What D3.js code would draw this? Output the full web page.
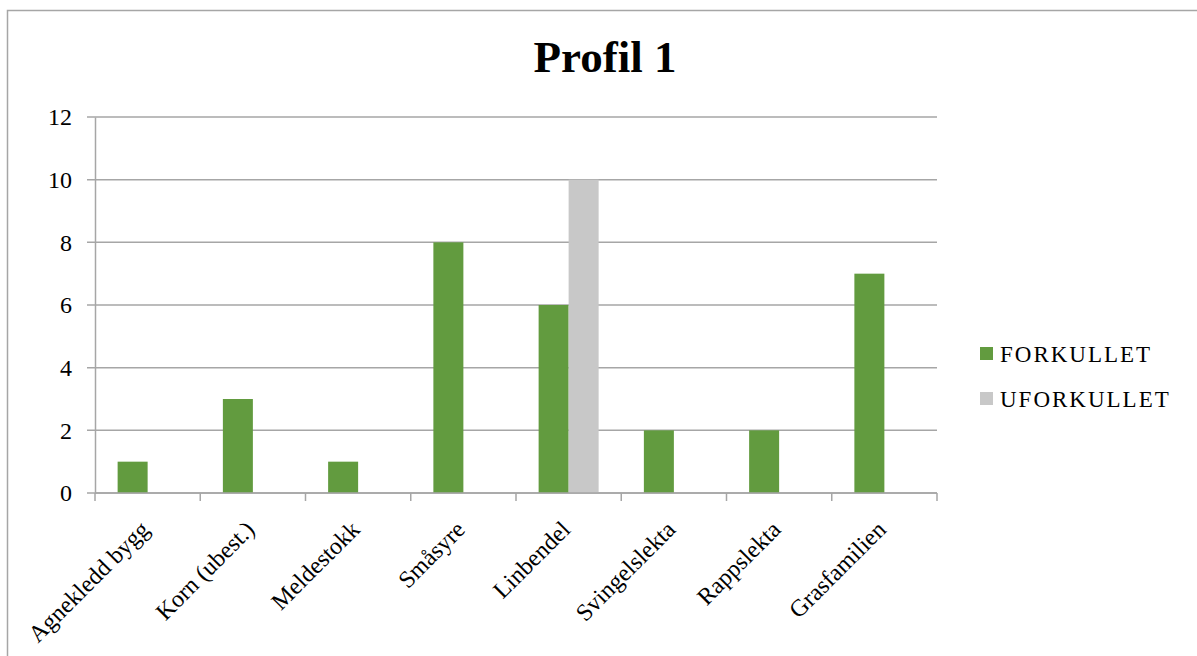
<!DOCTYPE html>
<html><head><meta charset="utf-8">
<script src="https://cdn.jsdelivr.net/npm/d3@7"></script>
<style>body{margin:0;background:#fff}svg{display:block}</style>
</head><body>
<svg id="c" width="1197" height="656"></svg>
<script>
const categories = ["Agnekledd bygg","Korn (ubest.)","Meldestokk","Småsyre","Linbendel","Svingelslekta","Rappslekta","Grasfamilien"];
const seriesNames = ["FORKULLET","UFORKULLET"];
const forkullet = [1,3,1,8,6,2,2,7];
const uforkullet = [0,0,0,0,10,0,0,0];
const yTicks = [0,2,4,6,8,10,12];
const colors = ["#629b3f","#c8c8c8"];

const svg = d3.select("#c");
const font = "'Liberation Serif','DejaVu Serif',serif";
svg.append("rect").attr("x",7.5).attr("y",10.5).attr("width",1200).attr("height",700)
  .attr("fill","#fff").attr("stroke","#a6a6a6").attr("stroke-width",1.5);

const L=95, R=937, T=117, B=493;
const x = d3.scaleBand().domain(categories).range([L,R]);
const y = d3.scaleLinear().domain([0,12]).range([B,T]);
const barW = 30;

// gridlines
svg.append("g").selectAll("line").data(yTicks).join("line")
  .attr("x1",L-8).attr("x2",R).attr("y1",d=>y(d)).attr("y2",d=>y(d))
  .attr("stroke","#a6a6a6").attr("stroke-width",1.5);

// y axis
const yAxis = d3.axisLeft(y).tickValues(yTicks).tickSize(0).tickPadding(23);
const gy = svg.append("g").attr("transform",`translate(${L},0)`).call(yAxis);
gy.attr("font-size",null).attr("font-family",null);
gy.select(".domain").attr("stroke","#a6a6a6").attr("stroke-width",1.5);
gy.selectAll("text").attr("font-family",font).attr("font-size",24).attr("fill","#000");

// bars
const data = [forkullet, uforkullet];
data.forEach((vals,si)=>{
  svg.append("g").selectAll("rect").data(vals.map((v,i)=>({c:categories[i],v}))).join("rect")
    .filter(d=>d.v>0)
    .attr("x",d=>x(d.c)+x.bandwidth()/2 - barW + si*barW)
    .attr("width",barW)
    .attr("y",d=>y(d.v)).attr("height",d=>y(0)-y(d.v))
    .attr("fill",colors[si]);
});

// x axis
const gx = svg.append("g").attr("transform",`translate(0,${B})`);
gx.append("line").attr("x1",L).attr("x2",R).attr("stroke","#a6a6a6").attr("stroke-width",1.5);
const bounds = categories.map(c=>x(c)).concat([R]);
gx.selectAll("line.t").data(bounds).join("line").attr("class","t")
  .attr("x1",d=>d).attr("x2",d=>d).attr("y1",0).attr("y2",8)
  .attr("stroke","#a6a6a6").attr("stroke-width",1.5);
gx.selectAll("text").data(categories).join("text")
  .attr("transform",d=>`translate(${x(d)+x.bandwidth()/2+3},${38}) rotate(-45)`)
  .attr("text-anchor","end").attr("font-family",font).attr("font-size",24).attr("fill","#000")
  .text(d=>d);

// title
svg.append("text").attr("x",605).attr("y",72).attr("text-anchor","middle")
  .attr("font-family",font).attr("font-size",45).attr("font-weight","bold").text("Profil 1");

// legend
const lg = svg.append("g");
seriesNames.forEach((n,i)=>{
  const yy = 354 + i*45;
  lg.append("rect").attr("x",980).attr("y",yy-7).attr("width",13).attr("height",13).attr("fill",colors[i]);
  lg.append("text").attr("x",1000).attr("y",yy+8).attr("font-family",font).attr("font-size",23)
    .attr("letter-spacing",2).text(n);
});
</script>
</body></html>
